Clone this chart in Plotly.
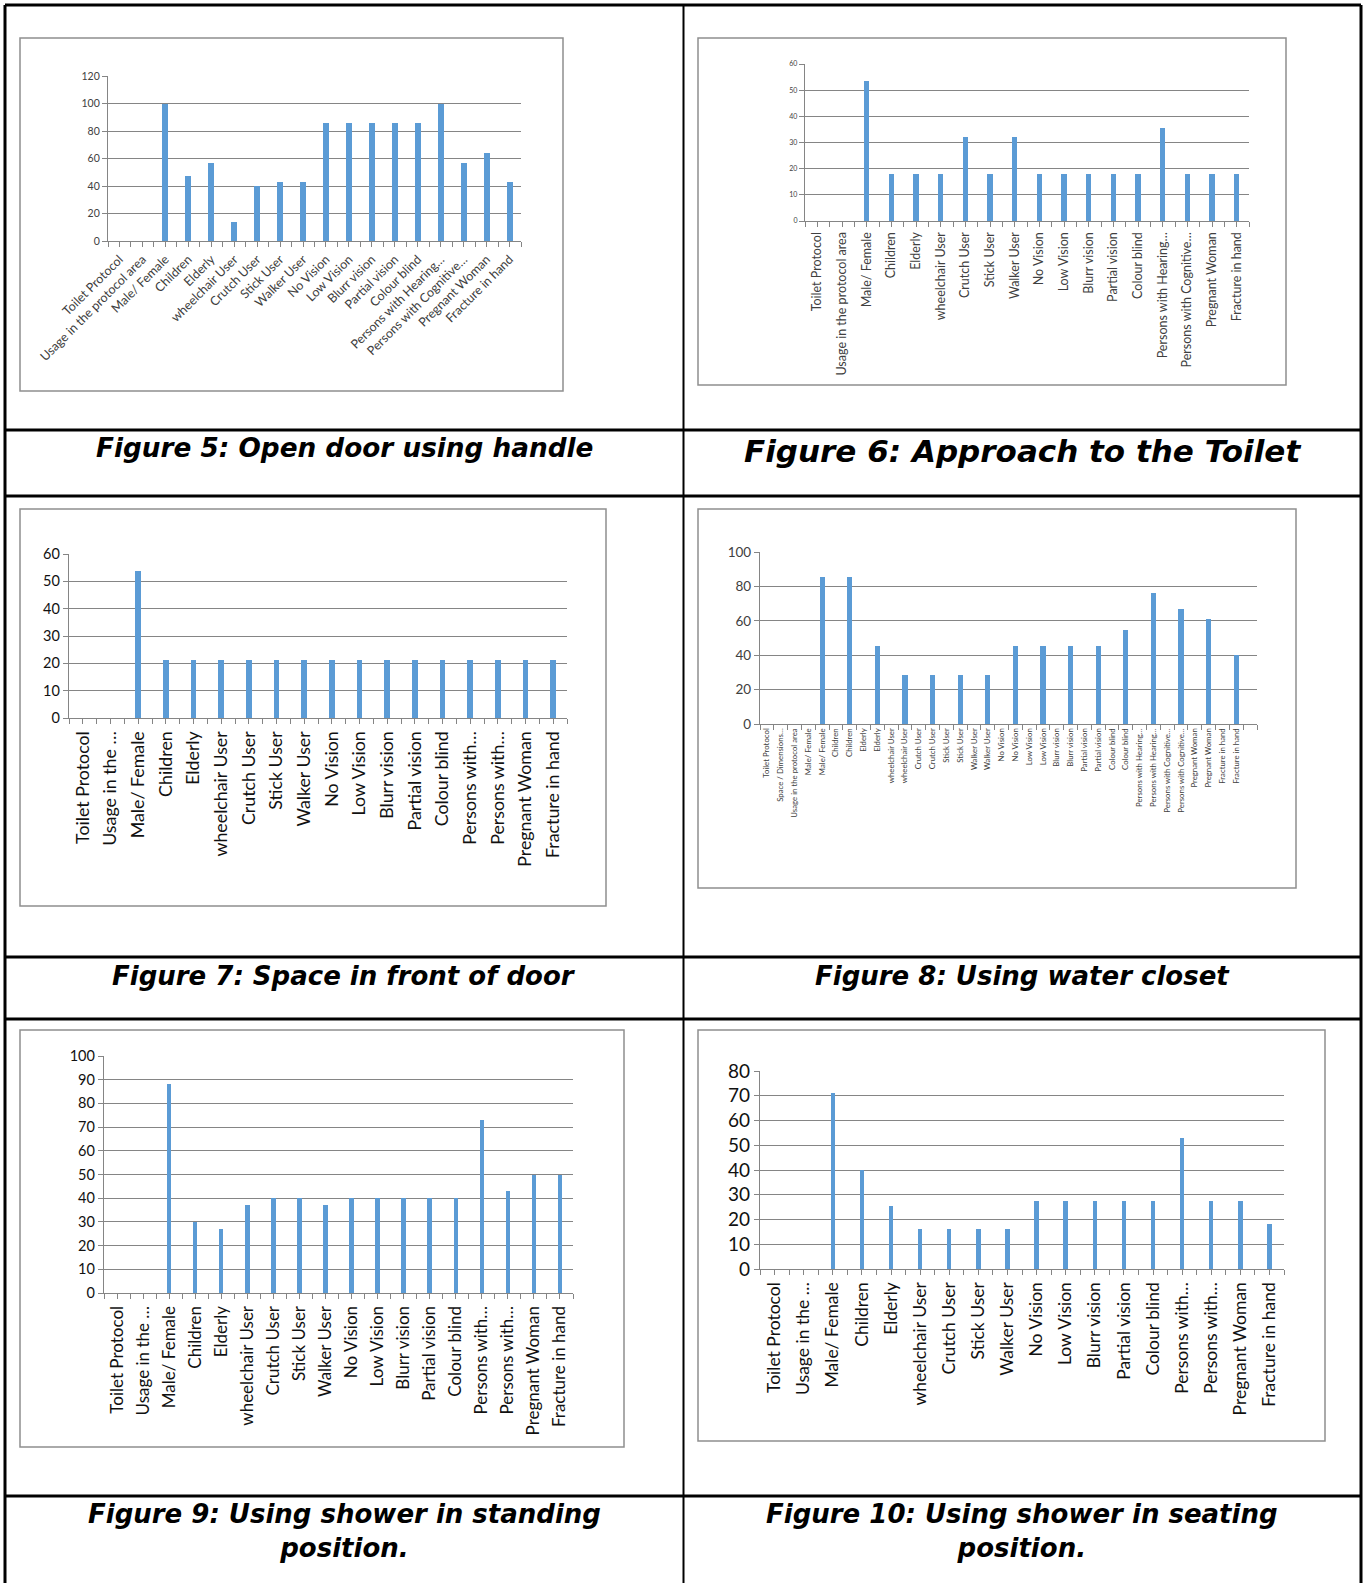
import plotly.graph_objects as go

W, H = 1365, 1583

# ---- category labels -------------------------------------------------------
cats_long = ["Toilet Protocol", "Usage in the protocol area", "Male/ Female", "Children",
             "Elderly", "wheelchair User", "Crutch User", "Stick User", "Walker User",
             "No Vision", "Low Vision", "Blurr vision", "Partial vision", "Colour blind",
             "Persons with Hearing…", "Persons with Cognitive…", "Pregnant Woman",
             "Fracture in hand"]
cats_short = ["Toilet Protocol", "Usage in the …", "Male/ Female", "Children", "Elderly",
              "wheelchair User", "Crutch User", "Stick User", "Walker User", "No Vision",
              "Low Vision", "Blurr vision", "Partial vision", "Colour blind",
              "Persons with…", "Persons with…", "Pregnant Woman", "Fracture in hand"]
cats_fig8 = ["Toilet Protocol", "Space / Dimensions…", "Usage in the protocol area",
             "Male/ Female", "Male/ Female", "Children", "Children", "Elderly", "Elderly",
             "wheelchair User", "wheelchair User", "Crutch User", "Crutch User",
             "Stick User", "Stick User", "Walker User", "Walker User", "No Vision",
             "No Vision", "Low Vision", "Low Vision", "Blurr vision", "Blurr vision",
             "Partial vision", "Partial vision", "Colour blind", "Colour blind",
             "Persons with Hearing…", "Persons with Hearing…", "Persons with Cognitive…",
             "Persons with Cognitive…", "Pregnant Woman", "Pregnant Woman",
             "Fracture in hand", "Fracture in hand"]

# ---- series values (%) -----------------------------------------------------
fig5_vals = [0, 0, 100, 47, 57, 14, 40, 43, 43, 86, 86, 86, 86, 86, 100, 57, 64, 43]
fig6_vals = [0, 0, 53.6, 17.9, 17.9, 17.9, 32.1, 17.9, 32.1, 17.9, 17.9, 17.9, 17.9,
             17.9, 35.7, 17.9, 17.9, 17.9]
fig7_vals = [0, 0, 53.6, 21.4, 21.4, 21.4, 21.4, 21.4, 21.4, 21.4, 21.4, 21.4, 21.4,
             21.4, 21.4, 21.4, 21.4, 21.4]
fig8_vals = [0, 0, 0, 0, 85.7, 0, 85.7, 0, 45.5, 0, 28.6, 0, 28.6, 0, 28.6, 0, 28.6,
             0, 45.5, 0, 45.5, 0, 45.5, 0, 45.5, 0, 54.5, 0, 76, 0, 67, 0, 61, 0, 40]
fig9_vals = [0, 0, 88, 30, 27, 37, 40, 40, 37, 40, 40, 40, 40, 40, 73, 43, 50, 50]
fig10_vals = [0, 0, 71, 40, 25.5, 16, 16, 16, 16, 27.5, 27.5, 27.5, 27.5, 27.5, 53,
              27.5, 27.5, 18]

captions = ["Figure 5: Open door using handle", "Figure 6: Approach to the Toilet",
            "Figure 7: Space in front of door", "Figure 8: Using water closet",
            "Figure 9: Using shower in standing<br>position.",
            "Figure 10: Using shower in seating<br>position."]

BAR = "#5B9BD5"
GRID = "#858585"
TXT = "#404040"


def px_x(x):
    return x / W


def px_y(y):
    return 1 - y / H


# chart specs: values, labels, number of slots, y max, y step, plot box (px),
# frame box (px), bar width, fonts, label angle
charts = [
    dict(vals=fig5_vals, labels=cats_long, slots=18, ymax=120, dy=20,
         plot=(108, 76, 521, 241), frame=(20, 38, 563, 391), bw=0.26,
         yfont=10.5, xfont=12.5, angle=-45, color=TXT, minor=True),
    dict(vals=fig6_vals, labels=cats_long, slots=18, ymax=60, dy=10,
         plot=(805, 64, 1249, 221), frame=(698, 38, 1286, 385), bw=0.22,
         yfont=7, xfont=12.5, angle=-90, color=TXT, minor=True),
    dict(vals=fig7_vals, labels=cats_short, slots=18, ymax=60, dy=10,
         plot=(69, 554, 567, 718), frame=(20, 509, 606, 906), bw=0.2,
         yfont=14.5, xfont=17.8, angle=-90, color="#111111", minor=True),
    dict(vals=fig8_vals, labels=cats_fig8, slots=36, ymax=100, dy=20,
         plot=(760, 552, 1257, 724), frame=(698, 509, 1296, 888), bw=0.38,
         yfont=13.5, xfont=7.8, angle=-90, color=TXT, minor=False),
    dict(vals=fig9_vals, labels=cats_short, slots=18, ymax=100, dy=10,
         plot=(104, 1056, 573, 1293), frame=(20, 1030, 624, 1447), bw=0.17,
         yfont=14.5, xfont=17, angle=-90, color="#111111", minor=True),
    dict(vals=fig10_vals, labels=cats_short, slots=18, ymax=80, dy=10,
         plot=(760, 1071, 1284, 1269), frame=(698, 1030, 1325, 1441), bw=0.15,
         yfont=19, xfont=17.5, angle=-90, color="#111111", minor=True),
]

fig = go.Figure()
shapes = []
layout_axes = {}

for i, c in enumerate(charts, start=1):
    xname = "x" if i == 1 else f"x{i}"
    yname = "y" if i == 1 else f"y{i}"
    xs = list(range(len(c["vals"])))
    fig.add_trace(go.Bar(x=xs, y=c["vals"], width=c["bw"], marker=dict(color=BAR, line=dict(width=0)),
                         xaxis=xname, yaxis=yname, showlegend=False, hoverinfo="skip"))
    x0, y0, x1, y1 = c["plot"]
    n = c["slots"]
    xa = dict(domain=[px_x(x0), px_x(x1)], range=[-0.5, n - 0.5], anchor=yname,
              tickmode="array", tickvals=xs, ticktext=c["labels"], tickangle=c["angle"],
              tickfont=dict(family="Lato", size=c["xfont"], color=c["color"]),
              showline=True, linecolor=GRID, linewidth=1.3, showgrid=False, zeroline=False,
              ticks="outside" if c["minor"] else "", ticklen=5, tickcolor=GRID,
              minor=dict(tickmode="array", tickvals=[k - 0.5 for k in range(n + 1)],
                         ticks="outside", ticklen=5, tickcolor=GRID, showgrid=False),
              automargin=False, fixedrange=True)
    ya = dict(domain=[px_y(y1), px_y(y0)], range=[0, c["ymax"]], anchor=xname,
              tickmode="linear", tick0=0, dtick=c["dy"],
              tickfont=dict(family="Lato", size=c["yfont"], color=c["color"]),
              showline=True, linecolor=GRID, linewidth=1.3, showgrid=True, gridcolor=GRID,
              gridwidth=1.3, zeroline=False, ticks="outside", ticklen=5, tickcolor=GRID,
              automargin=False, fixedrange=True)
    layout_axes["xaxis" if i == 1 else f"xaxis{i}"] = xa
    layout_axes["yaxis" if i == 1 else f"yaxis{i}"] = ya
    fx0, fy0, fx1, fy1 = c["frame"]
    shapes.append(dict(type="rect", xref="paper", yref="paper", x0=px_x(fx0), x1=px_x(fx1),
                       y0=px_y(fy1), y1=px_y(fy0), line=dict(color="#8f8f8f", width=1.5),
                       layer="below"))

# table rules
LW = 3
for y in [5, 430, 496, 957, 1019, 1496]:
    shapes.append(dict(type="line", xref="paper", yref="paper", x0=px_x(5), x1=px_x(1361),
                       y0=px_y(y), y1=px_y(y), line=dict(color="black", width=LW)))
for x in [5, 683.5, 1361]:
    shapes.append(dict(type="line", xref="paper", yref="paper", x0=px_x(x), x1=px_x(x),
                       y0=px_y(5), y1=px_y(H), line=dict(color="black", width=LW if x != 683.5 else 2)))

# captions
cap_pos = [(344, 448, 26.3), (1022, 451, 31), (344, 976, 26), (1022, 976, 26),
           (344, 1531, 26), (1022, 1531, 26)]
annotations = []
for text, (cx, cy, sz) in zip(captions, cap_pos):
    annotations.append(dict(text=text, x=px_x(cx), y=px_y(cy), xref="paper", yref="paper",
                            xanchor="center", yanchor="middle", showarrow=False,
                            font=dict(family="DejaVu Sans", size=sz, color="black",
                                      weight="bold", style="italic")))

fig.update_layout(width=W, height=H, margin=dict(l=0, r=0, t=0, b=0),
                  paper_bgcolor="white", plot_bgcolor="white", template="none",
                  shapes=shapes, annotations=annotations, bargap=0, **layout_axes)

fig.write_html("out.html", config={"displayModeBar": False})
